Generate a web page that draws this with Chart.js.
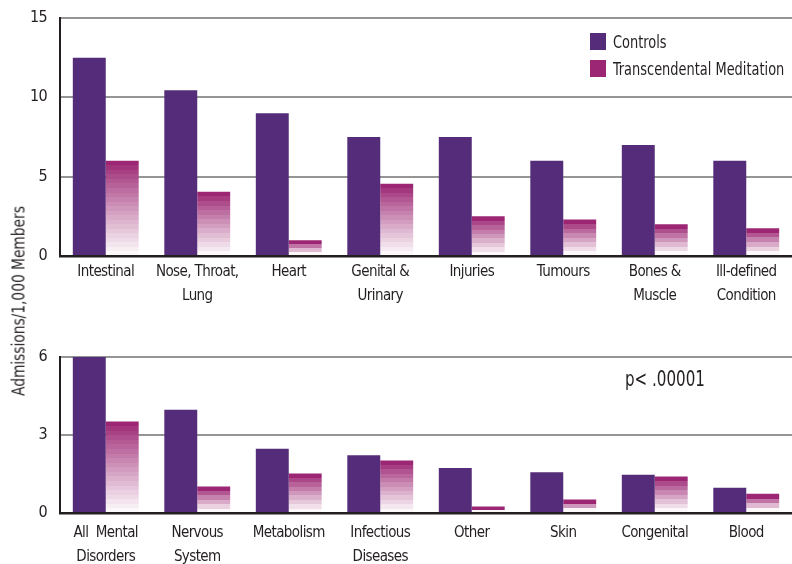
<!DOCTYPE html>
<html>
<head>
<meta charset="utf-8">
<script src="https://cdnjs.cloudflare.com/ajax/libs/Chart.js/4.4.1/chart.umd.js"></script>
<style>
  html, body { margin: 0; padding: 0; background: #fff; }
  #wrap { position: relative; width: 792px; height: 564px; overflow: hidden;
          font-family: 'Liberation Sans Narrow', 'DejaVu Sans Condensed', sans-serif; color: #231f20; }
  #topChart { position: absolute; left: 0; top: 0; }
  #botChart { position: absolute; left: 0; top: 340px; }
  .sw { position: absolute; left: 590px; width: 16px; height: 17px; }
  .lt { position: absolute; left: 613px; font-size: 18px; line-height: 18px; white-space: nowrap;
        transform: scaleX(0.8); transform-origin: 0 50%; }
  #ytitle { position: absolute; left: 18px; top: 301px; font-size: 18px; white-space: nowrap;
            transform: translate(-50%, -50%) rotate(-90deg) scaleX(0.85); }
  #pval { position: absolute; left: 625px; top: 367px; font-size: 21px; white-space: nowrap;
          transform: scaleX(0.8); transform-origin: 0 50%; }
</style>
</head>
<body>
<div id="wrap">
  <canvas id="topChart" width="792" height="310"></canvas>
  <canvas id="botChart" width="792" height="224"></canvas>
  <div class="sw" style="top:33px;background:#552c79"></div>
  <div class="lt" style="top:33px">Controls</div>
  <div class="sw" style="top:60px;background:#9c2673"></div>
  <div class="lt" style="top:60px">Transcendental Meditation</div>
  <div id="ytitle">Admissions/1,000 Members</div>
  <div id="pval">p&lt; .00001</div>
</div>
<script>
const topLabels = ['Intestinal', ['Nose, Throat,', 'Lung'], 'Heart', ['Genital &', 'Urinary'],
    'Injuries', 'Tumours', ['Bones &', 'Muscle'], ['Ill-defined', 'Condition']];
const topControls = [12.5, 10.45, 9.0, 7.5, 7.5, 6.0, 7.0, 6.0];
const topTM = [6.0, 4.05, 1.0, 4.55, 2.5, 2.3, 2.0, 1.75];

const botLabels = [['All  Mental', 'Disorders'], ['Nervous', 'System'], 'Metabolism', ['Infectious', 'Diseases'],
    'Other', 'Skin', 'Congenital', 'Blood'];
const botControls = [6.0, 3.97, 2.47, 2.22, 1.73, 1.57, 1.47, 0.97];
const botTM = [3.52, 1.02, 1.52, 2.02, 0.25, 0.52, 1.4, 0.74];

const CONTROL_COLOR = '#552c79';
const FONT = "'Liberation Sans Narrow', 'DejaVu Sans Condensed', sans-serif";
const INK = '#231f20';

// banded fade from magenta at the top of the bar to white at its base
function tmFill(context) {
    const chart = context.chart;
    const y = chart.scales.y;
    if (!chart.chartArea || !y) return '#9c2673';
    const top = y.getPixelForValue(context.raw);
    const base = y.getPixelForValue(0);
    const h = base - top;
    if (!(h > 0)) return '#9c2673';
    const g = chart.ctx.createLinearGradient(0, top, 0, base);
    const n = Math.max(2, Math.round(h / 4.5));
    const c0 = [156, 38, 115], c1 = [252, 248, 250];
    for (let i = 0; i < n; i++) {
        const t = Math.pow(i / (n - 1), 0.9);
        const c = c0.map((v, k) => Math.round(v + (c1[k] - v) * t));
        const col = 'rgb(' + c.join(',') + ')';
        g.addColorStop(i / n, col);
        g.addColorStop((i + 1) / n - 0.0001, col);
    }
    return g;
}

// tighter letters so the condensed face gets closer to the original
const tightText = {
    id: 'tightText',
    beforeDraw: chart => { chart.ctx.letterSpacing = '-0.6px'; }
};

function makeChart(id, labels, controls, tm, max, step, padTop, xHeight, xPad) {
    return new Chart(document.getElementById(id), {
        type: 'bar',
        data: {
            labels,
            datasets: [
                { label: 'Controls', data: controls, backgroundColor: CONTROL_COLOR, borderWidth: 0,
                  categoryPercentage: 0.72, barPercentage: 1.0 },
                { label: 'Transcendental Meditation', data: tm, backgroundColor: tmFill, borderWidth: 0,
                  categoryPercentage: 0.72, barPercentage: 1.0 }
            ]
        },
        plugins: [tightText],
        options: {
            responsive: false,
            animation: false,
            layout: { padding: { top: padTop, right: 0, left: 0, bottom: 0 } },
            plugins: { legend: { display: false }, tooltip: { enabled: false } },
            scales: {
                x: {
                    grid: { display: false },
                    border: { display: true, color: INK, width: 2.5 },
                    ticks: { color: INK, padding: xPad, maxRotation: 0, autoSkip: false,
                             font: { family: FONT, size: 15, lineHeight: 1.6 } },
                    afterFit: s => { s.height = xHeight; s.paddingLeft = 0; s.paddingRight = 0; }
                },
                y: {
                    min: 0, max: max,
                    grid: { drawTicks: false, lineWidth: 2,
                            color: c => c.tick && c.tick.value === 0 ? 'rgba(0,0,0,0)' : '#959595' },
                    border: { display: true, color: INK, width: 2 },
                    ticks: { stepSize: step, color: INK, padding: 13,
                             font: { family: FONT, size: 16 } },
                    afterFit: s => { s.width = 60; s.paddingTop = 0; s.paddingBottom = 0; }
                }
            }
        }
    });
}

makeChart('topChart', topLabels, topControls, topTM, 15, 5, 18, 54, -4);
makeChart('botChart', botLabels, botControls, botTM, 6, 3, 17, 51, 0);
</script>
</body>
</html>
